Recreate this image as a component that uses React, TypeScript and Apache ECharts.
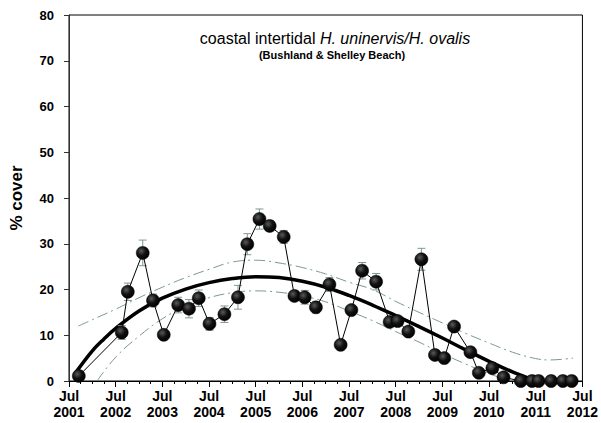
import React, { useEffect, useRef } from "react";
import * as echarts from "echarts";

// Observation dates (decimal years) and mean % cover with SE
const obsYears = [
  2001.71, 2002.63, 2002.76, 2003.08, 2003.3, 2003.53, 2003.84, 2004.07, 2004.28, 2004.51,
  2004.83, 2005.12, 2005.32, 2005.58, 2005.8, 2006.1, 2006.33, 2006.55, 2006.79, 2007.08,
  2007.32, 2007.55, 2007.78, 2008.08, 2008.37, 2008.54, 2008.77, 2009.05, 2009.34, 2009.54,
  2009.75, 2010.1, 2010.28, 2010.57, 2010.81, 2011.18, 2011.42, 2011.56, 2011.83, 2012.08,
  2012.27,
];
const coverVals = [
  1.1, 10.6, 19.5, 28.0, 17.6, 10.1, 16.6, 15.8, 18.1, 12.5,
  14.6, 18.3, 29.9, 35.4, 33.9, 31.5, 18.6, 18.3, 16.1, 21.1,
  7.9, 15.5, 24.1, 21.7, 12.9, 13.1, 10.8, 26.6, 5.7, 5.0,
  11.9, 6.3, 1.8, 2.8, 0.8, 0, 0, 0, 0, 0,
  0,
];
const seVals = [
  0.3, 1.5, 1.9, 2.8, 1.4, 0.6, 1.7, 2.0, 1.8, 1.4,
  1.8, 2.6, 2.3, 2.2, 1.1, 1.4, 1.0, 1.5, 1.2, 1.5,
  0.7, 1.0, 1.8, 1.8, 0.8, 1.0, 0.8, 2.4, 0.6, 0.6,
  0.6, 0.6, 0.5, 0.5, 0.4, 0, 0, 0, 0, 0,
  0,
];

// Fitted trend and confidence band
const fitYears = [
  2001.62, 2002.0, 2002.25, 2002.5, 2003.0, 2003.5, 2004.0, 2004.5, 2005.0, 2005.5, 2006.0,
  2006.5, 2007.0, 2007.5, 2008.0, 2008.5, 2009.0, 2009.5, 2010.0, 2010.5, 2011.0, 2011.52,
];
const fitVals = [
  1.5, 6.6, 9.2, 11.5, 15.3, 18.1, 20.1, 21.5, 22.4, 22.8, 22.6,
  21.8, 20.5, 18.7, 16.6, 14.3, 11.9, 9.4, 6.8, 4.3, 2.0, 0,
];
const upperYears = [
  2001.7, 2002.0, 2002.5, 2003.0, 2003.5, 2004.0, 2004.5, 2005.0, 2005.5, 2006.0, 2006.5,
  2007.0, 2007.5, 2008.0, 2008.5, 2009.0, 2009.5, 2010.0, 2010.5, 2011.0, 2011.5, 2011.8, 2012.3,
];
const upperVals = [
  12.0, 13.4, 15.7, 18.2, 20.5, 22.6, 24.4, 26.0, 26.4, 25.8, 24.8,
  23.4, 21.6, 20.0, 17.4, 15.0, 12.7, 10.4, 8.3, 6.3, 4.9, 4.6, 5.0,
];
const lowerYears = [
  2002.1, 2002.5, 2003.0, 2003.5, 2004.0, 2004.5, 2005.0, 2005.5, 2006.0, 2006.5,
  2007.0, 2007.5, 2008.0, 2008.5, 2009.0, 2009.5, 2010.0, 2010.5, 2010.95,
];
const lowerVals = [
  0, 5.2, 9.8, 13.6, 16.3, 18.2, 19.3, 19.7, 19.4, 18.6,
  17.3, 15.3, 13.2, 10.8, 8.5, 6.0, 3.7, 1.6, 0,
];

const startYear = 2001;
const yTicks = { min: 0, max: 80, interval: 10 };

const toX = (yr: number) => (yr - 2001.5) * 12; // months since Jul 2001

const BAND = "#7a9794";
const ERR = "#7f9896";
const SANS = '"Liberation Sans", Arial, sans-serif';

export default function App() {
  const ref = useRef<HTMLDivElement>(null);

  useEffect(() => {
    document.body.style.margin = "0";
    const chart = echarts.init(ref.current!, null, { renderer: "svg" });

    const pts = obsYears.map((y, i) => [toX(y), coverVals[i]]);
    const errs = obsYears.map((y, i) => [toX(y), coverVals[i] - seVals[i], coverVals[i] + seVals[i]]);
    const fit = fitYears.map((y, i) => [toX(y), fitVals[i]]);
    const up = upperYears.map((y, i) => [toX(y), upperVals[i]]);
    const lo = lowerYears.map((y, i) => [toX(y), lowerVals[i]]);

    const dashDot = [11, 4, 2, 4];

    chart.setOption({
      animation: false,
      backgroundColor: "#fff",
      title: [
        {
          text: "{n|coastal intertidal }{i|H. uninervis/H. ovalis}",
          left: 330,
          top: 25,
          textAlign: "center",
          textStyle: {
            rich: {
              n: { fontFamily: SANS, fontSize: 16, fontWeight: "normal", color: "#000" },
              i: { fontFamily: SANS, fontSize: 16, fontStyle: "italic", fontWeight: "normal", color: "#000" },
            },
          },
        },
        {
          text: "(Bushland & Shelley Beach)",
          left: 327,
          top: 44,
          textAlign: "center",
          textStyle: { fontFamily: SANS, fontSize: 11, fontWeight: "bold", color: "#000" },
        },
      ],
      grid: {
        left: 68,
        top: 15,
        right: 14,
        bottom: 42,
        show: true,
        borderColor: "#000",
        borderWidth: 1,
        backgroundColor: "transparent",
      },
      xAxis: {
        type: "value",
        min: 0,
        max: 132,
        interval: 12,
        axisLine: { show: true, lineStyle: { color: "#000", width: 1 } },
        axisTick: { show: true, length: 6, lineStyle: { color: "#000" } },
        minorTick: { show: true, splitNumber: 4, length: 3, lineStyle: { color: "#000" } },
        splitLine: { show: false },
        minorSplitLine: { show: false },
        axisLabel: {
          margin: 7,
          fontFamily: SANS,
          fontSize: 14,
          fontWeight: "bold",
          color: "#000",
          lineHeight: 16,
          formatter: (v: number) => `Jul\n${startYear + Math.round(v / 12)}`,
        },
      },
      yAxis: {
        type: "value",
        ...yTicks,
        name: "% cover",
        nameLocation: "middle",
        nameGap: 44,
        nameTextStyle: { fontFamily: SANS, fontSize: 17, fontWeight: "bold", color: "#000" },
        axisLine: { show: true, lineStyle: { color: "#333", width: 1 } },
        axisTick: { show: true, length: 5, lineStyle: { color: "#333" } },
        splitLine: { show: false },
        axisLabel: { margin: 15, fontFamily: SANS, fontSize: 13, fontWeight: "bold", color: "#000" },
      },
      series: [
        {
          type: "line",
          data: up,
          smooth: 0.4,
          symbol: "none",
          lineStyle: { color: BAND, width: 1, type: dashDot },
          z: 2,
        },
        {
          type: "line",
          data: lo,
          smooth: 0.4,
          symbol: "none",
          lineStyle: { color: BAND, width: 1, type: dashDot },
          z: 2,
        },
        {
          type: "line",
          data: fit,
          smooth: 0.4,
          symbol: "none",
          lineStyle: { color: "#000", width: 3.5 },
          z: 3,
        },
        {
          type: "custom",
          data: errs,
          encode: { x: 0, y: [1, 2] },
          z: 4,
          clip: false,
          renderItem: (params: any, api: any) => {
            const x = api.value(0);
            const l = api.value(1);
            const h = api.value(2);
            if (h - l <= 0) return null;
            const pt = api.coord([x, h]);
            const pb = api.coord([x, l]);
            const w = 4;
            const st = { stroke: ERR, lineWidth: 1 };
            return {
              type: "group",
              children: [
                { type: "line", shape: { x1: pt[0], y1: pt[1], x2: pb[0], y2: pb[1] }, style: st },
                { type: "line", shape: { x1: pt[0] - w, y1: pt[1], x2: pt[0] + w, y2: pt[1] }, style: st },
                { type: "line", shape: { x1: pb[0] - w, y1: pb[1], x2: pb[0] + w, y2: pb[1] }, style: st },
              ],
            };
          },
        },
        {
          type: "line",
          data: pts,
          clip: false,
          symbol: "circle",
          symbolSize: 13,
          lineStyle: { color: "#000", width: 1 },
          itemStyle: {
            color: new echarts.graphic.RadialGradient(0.38, 0.35, 0.7, [
              { offset: 0, color: "#5a5a5a" },
              { offset: 0.5, color: "#111" },
              { offset: 1, color: "#000" },
            ]),
            borderColor: "#000",
            borderWidth: 0.5,
          },
          z: 5,
        },
      ],
    });

    return () => chart.dispose();
  }, []);

  return (
    <div
      ref={ref}
      style={{ position: "absolute", left: 0, top: 0, width: 601, height: 423 }}
    />
  );
}
